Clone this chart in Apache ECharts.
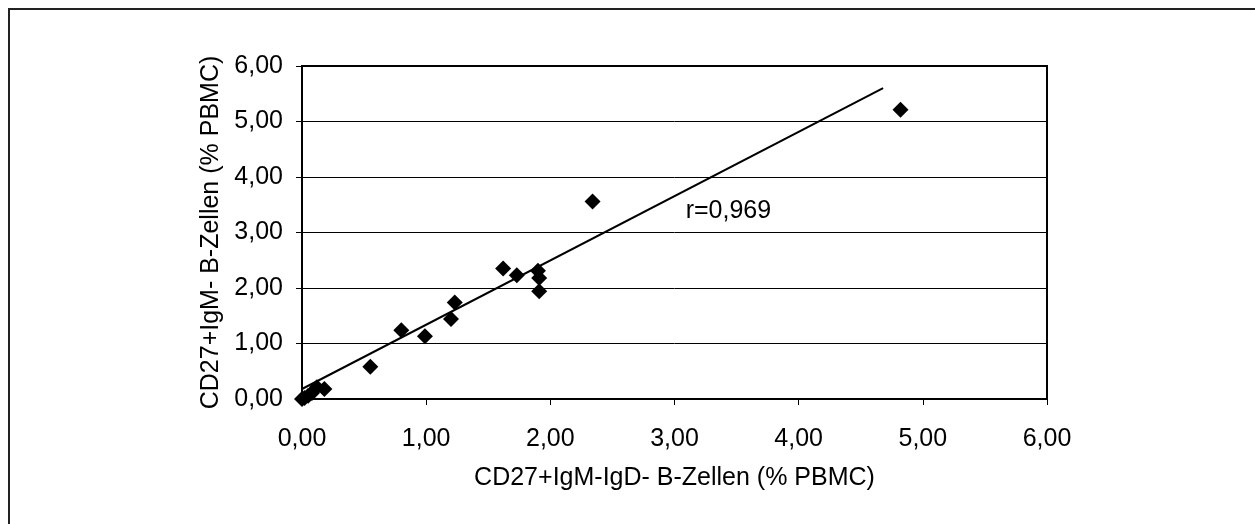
<!DOCTYPE html>
<html>
<head>
<meta charset="utf-8">
<title>CD27+IgM- B-Zellen</title>
<script src="https://cdn.jsdelivr.net/npm/echarts@6/dist/echarts.min.js"></script>
<style>
  html, body { margin: 0; padding: 0; background: #fff; }
  #chart { width: 1255px; height: 524px; }
</style>
</head>
<body>
<div id="chart"></div>
<script>
// Measured B-cell fractions (% of PBMC)
const xValues = [0.00, 0.02, 0.05, 0.08, 0.12, 0.18, 0.55, 0.80, 0.99, 1.20, 1.23, 1.62, 1.73, 1.90, 1.91, 1.91, 2.34, 4.82];
const yValues = [0.00, 0.02, 0.06, 0.11, 0.21, 0.18, 0.58, 1.24, 1.13, 1.44, 1.74, 2.35, 2.23, 2.31, 2.18, 1.94, 3.56, 5.21];

// Linear regression line endpoints
const trendX = [0.00, 4.68];
const trendY = [0.18, 5.60];

// Correlation annotation
const corrLabel = 'r=0,969';
const corrPos = [3.09, 3.38];

// Axis ticks
const axisTicks = [0, 1, 2, 3, 4, 5, 6];

const xName = 'CD27+IgM-IgD- B-Zellen (% PBMC)';
const yName = 'CD27+IgM- B-Zellen (% PBMC)';

const fmt = v => v.toFixed(2).replace('.', ',');
const font = 'Liberation Sans, Arial, sans-serif';
const fontSize = 25;

const points = xValues.map((x, i) => [x, yValues[i]]);
const trend = trendX.map((x, i) => [x, trendY[i]]);

const chart = echarts.init(document.getElementById('chart'), null, { renderer: 'canvas' });
chart.setOption({
  animation: false,
  backgroundColor: '#fff',
  graphic: [{
    type: 'rect',
    shape: { x: 9, y: 9, width: 1400, height: 700 },
    style: { fill: 'none', stroke: '#222', lineWidth: 2 },
    silent: true
  }],
  grid: {
    left: 302, right: 208, top: 66, bottom: 125,
    show: true, borderColor: '#000', borderWidth: 2, backgroundColor: 'transparent'
  },
  xAxis: {
    type: 'value',
    min: axisTicks[0], max: axisTicks[axisTicks.length - 1], interval: 1,
    name: xName, nameLocation: 'middle', nameGap: 67,
    nameTextStyle: { color: '#000', fontFamily: font, fontSize: fontSize },
    axisLine: { show: true, onZero: false, lineStyle: { color: '#000', width: 2 } },
    axisTick: { show: true, length: 6, lineStyle: { color: '#000', width: 1 } },
    axisLabel: { color: '#000', fontFamily: font, fontSize: fontSize, margin: 28, formatter: fmt },
    splitLine: { show: false }
  },
  yAxis: {
    type: 'value',
    min: axisTicks[0], max: axisTicks[axisTicks.length - 1], interval: 1,
    name: yName, nameLocation: 'middle', nameGap: 75, nameRotate: 90,
    nameTextStyle: { color: '#000', fontFamily: font, fontSize: fontSize },
    axisLine: { show: true, onZero: false, lineStyle: { color: '#000', width: 2 } },
    axisTick: { show: true, length: 6, lineStyle: { color: '#000', width: 1 } },
    axisLabel: { color: '#000', fontFamily: font, fontSize: fontSize, margin: 19, formatter: fmt },
    splitLine: { show: true, lineStyle: { color: '#000', width: 1 } }
  },
  series: [
    {
      type: 'line',
      data: trend,
      symbol: 'none',
      lineStyle: { color: '#000', width: 2 },
      z: 3
    },
    {
      type: 'scatter',
      data: points,
      symbol: 'diamond',
      symbolSize: [16, 16],
      itemStyle: { color: '#000', opacity: 1 },
      z: 4
    },
    {
      type: 'scatter',
      data: [corrPos],
      symbolSize: 0,
      itemStyle: { color: '#000', opacity: 1 },
      label: {
        show: true, position: 'right', distance: 0,
        formatter: corrLabel,
        color: '#000', fontFamily: font, fontSize: fontSize
      },
      z: 5
    }
  ]
});
</script>
</body>
</html>
